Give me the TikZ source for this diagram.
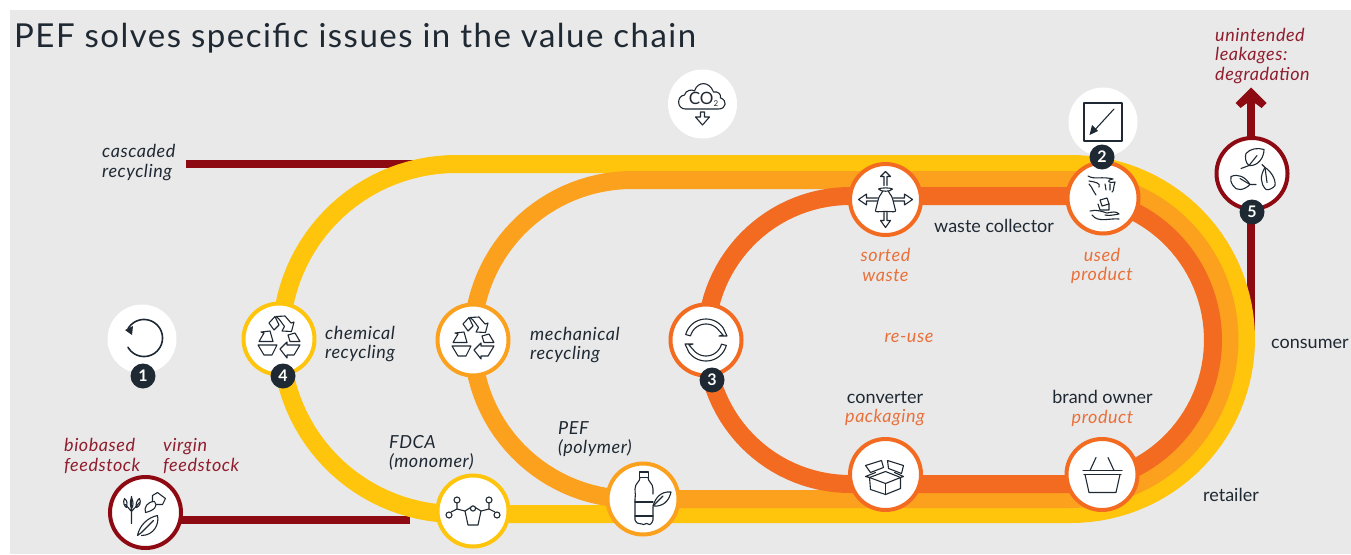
\documentclass[tikz,border=0pt]{standalone}
\usepackage{fontspec}
\setmainfont{Lato}
\newfontfamily\titlefont[LetterSpace=4.5]{Lato}
\newfontfamily\labfont[LetterSpace=3]{Lato}
\usetikzlibrary{backgrounds}
\definecolor{bgc}{HTML}{E9E9E9}
\definecolor{yel}{HTML}{FFC40C}
\definecolor{ora}{HTML}{FBA11D}
\definecolor{red0}{HTML}{F26B21}
\definecolor{dred}{HTML}{8E0A12}
\definecolor{ink}{HTML}{1F2933}
\definecolor{lab}{HTML}{E9703A}
\definecolor{redt}{HTML}{8F1D2E}
\tikzset{
 x=1pt,y=-1pt,
 band/.style={line width=18pt,line join=round},
 feedline/.style={dred,line width=8.5pt},
 hub/.style={circle,draw=#1,line width=4pt,fill=white,minimum size=71pt,inner sep=0pt},
 halo/.style={circle,fill=white,minimum size=69pt,inner sep=0pt},
 badge/.style={circle,fill=ink,minimum size=25pt,inner sep=0pt,text=white,font=\fontsize{16}{16}\selectfont\bfseries},
 txt/.style={text=ink,font=\fontsize{18}{19.5}\selectfont,inner sep=0pt,align=left},
 itx/.style={txt,font=\labfont\fontsize{18}{19.5}\selectfont\itshape},
 rtx/.style={itx,text=redt},
 otx/.style={itx,text=lab,align=center},
 ico/.style={draw=ink,line width=1.1pt,line join=round,line cap=round},
}
\newcommand\icorecyc{
 \draw[ico] (-10,-16)--(-4,-22.5)--(0,-14)--(-5,-9)--cycle;
 \draw[ico] (-3,-22.5)--(6,-23)--(12,-16)--(15,-17)--(12.5,-7.5)--(3,-8)--(5.5,-12.5)--(0,-20)--cycle;
 \draw[ico] (-20,2.5)--(-15,-6)--(-18,-7)--(-9,-8)--(-6,2.5)--cycle;
 \draw[ico] (-21,6)--(-2,6)--(-7,16)--(-15,16)--cycle;
 \draw[ico] (1,10)--(8,3)--(8,6)--(21,6)--(15,16)--(8,16)--(8,19)--cycle;
 \draw[ico] (9,-4)--(16,-6)--(21,2.5)--(11,2.5)--cycle;
}
\newcommand\icoswirl{
 \draw[ico] plot[domain=165:35,samples=25] ({21*cos(\x)},{-21*sin(\x)}) -- (21,-4) -- (13,-4) -- (17,-5) 
   -- plot[domain=40:165,samples=25] ({16*cos(\x)},{-16*sin(\x)}) -- cycle;
 \begin{scope}[rotate=180]
 \draw[ico] plot[domain=165:35,samples=25] ({21*cos(\x)},{-21*sin(\x)}) -- (21,-4) -- (13,-4) -- (17,-5) 
   -- plot[domain=40:165,samples=25] ({16*cos(\x)},{-16*sin(\x)}) -- cycle;
 \end{scope}
}
\newcommand\icomol{
 \draw[ico] (0,-5)--(-8,0)--(-5,14)--(5,14)--(8,0)--cycle;
 \draw[ico,fill=white] (0,-2.5) circle[radius=2.6];
 \draw[ico] (-8,0)--(-16,-2)--(-16,-9) (-16,-2)--(-22,1) (8,0)--(16,-2)--(16,-9) (16,-2)--(22,1);
 \draw[ico,fill=white] (-16,-11) circle[radius=3] (-24,4) circle[radius=3] (16,-11) circle[radius=3] (24,4) circle[radius=3];
}
\newcommand\icobottle{
 \draw[ico] (-3.5,-27)--(5.5,-27)--(5.5,-21.5)--(-3.5,-21.5)--cycle;
 \draw[ico] (-3,-21.5) .. controls (-3,-17) and (-8,-16) .. (-8,-10) .. controls (-8,-5) and (-7,-3) .. (-8,0) -- (-8,21) .. controls (-5,27) and (-3,23) .. (-1,25) .. controls (1,27) and (3,23) .. (5,25) .. controls (7,27) and (9,24) .. (10,21) -- (10,8);
 \draw[ico] (5,-21.5) .. controls (5,-17) and (10,-16) .. (10,-10) -- (10,-5);
 \draw[ico] (-8,3)--(10,3) (-8,17)--(10,17);
 \draw[ico] (10,7) .. controls (12,0) and (17,-8) .. (28,-7) .. controls (26,2) and (20,8) .. (10,7) -- cycle;
 \draw[ico] (10,7)--(20,-3);
}
\newcommand\icobox{
 \draw[ico] (-16,3)--(0,9)--(15,3)--(15,14)--(0,20)--(-15,15)--cycle;
 \draw[ico] (0,9)--(0,20);
 \draw[ico] (-16,3)--(0,-3)--(15,3);
 \draw[ico] (-20,-9)--(-4,-14)--(-2,-7)--(-15,-2)--cycle;
 \draw[ico] (2,-14)--(18,-9)--(16,-1)--(3,-6)--cycle;
 \draw[ico] (-16,3)--(-20,2)--(-10,-2) (15,3)--(18,2)--(9,-2);
}
\newcommand\icobasket{
 \draw[ico] (-19,-4)--(20,-4) (-18,0)--(19,0);
 \draw[ico] (-17,0)--(-13,18)--(14,18)--(18,0);
 \draw[ico] (-12,-4)--(-6,-17) (12,-4)--(6,-17);
}
\newcommand\icosort{
 \draw[ico] (-7,-10.5) .. controls (-4,-12) and (4,-12) .. (7,-10.5) .. controls (5,-7.5) and (-5,-7.5) .. (-7,-10.5) -- cycle;
 \draw[ico] (-3,-8) .. controls (-3,-6) and (-6,-5) .. (-7,-1) -- (-10,11) .. controls (-10,13) and (-8,12) .. (0,12) .. controls (8,12) and (10,13) .. (10,11) -- (7,-1) .. controls (6,-5) and (3,-6) .. (3,-8);
 \draw[ico] (-1.5,-14)--(-1.5,-23)--(-5,-23)--(0,-28)--(5,-23)--(1.5,-23)--(1.5,-14);
 \draw[ico] (-1.5,13)--(-1.5,21)--(-5,21)--(0,28)--(5,21)--(1.5,21)--(1.5,13);
 \draw[ico] (-8,-1.5)--(-19,-1.5)--(-19,-5.5)--(-27,0)--(-19,5.5)--(-19,1.5)--(-8,1.5);
 \draw[ico] (8,-1.5)--(19,-1.5)--(19,-5.5)--(27,0)--(19,5.5)--(19,1.5)--(8,1.5);
}
\newcommand\icohands{
 \draw[ico] (-15,-22) .. controls (-8,-18) and (-2,-22) .. (10,-19) .. controls (2,-18) and (6,-14) .. (12,-16) (-14,-17) .. controls (-8,-16) and (-2,-15) .. (-4,-11) (-14,-14) .. controls (-9,-8) and (-10,-6) .. (-7,-3) (12,-16) .. controls (10,-10) and (11,-7) .. (9,-6) (2,-14)--(3,-8) (7,-14)--(7,-8);
 \draw[ico] (-3,2)--(4,0)--(6,6)--(-1,8)--cycle;
 \draw[ico] (-5,6)--(-3,12)--(6,12)--(6,6);
 \draw[ico] (-13,13) .. controls (-6,11) and (0,14) .. (4,15) .. controls (10,14) and (13,13) .. (16,16) .. controls (10,17) and (6,18) .. (2,17) (-11,17) .. controls (-5,25) and (6,20) .. (16,21);
}
\newcommand\icoleaves{
 \draw[ico] (-6,-20) .. controls (-2,-25) and (6,-26) .. (12,-24) .. controls (12,-16) and (6,-7) .. (-3,-8) .. controls (-7,-11) and (-7,-17) .. (-6,-20) -- cycle;
 \draw[ico] (-11,-5)--(-3,-8)--(5,-18);
 \draw[ico] (13,-6) .. controls (18,-3) and (24,5) .. (23,12) .. controls (21,15) and (16,17) .. (14,16) .. controls (8,10) and (8,2) .. (13,-6) -- cycle;
 \draw[ico] (10,-9)--(13,-6)--(15,9);
 \draw[ico] (-21,3) .. controls (-14,0) and (-7,3) .. (-2,11) .. controls (-8,17) and (-16,18) .. (-19,12) .. controls (-21,9) and (-22,6) .. (-21,3) -- cycle;
 \draw[ico] (-12,5)--(-2,11)--(4,11);
}
\newcommand\icofeed{
 \draw[ico] (-14,-16)--(-14,11) (-14,-1)--(-20,-8) (-14,-1)--(-6,-10);
 \draw[ico] (-21,-14) .. controls (-23,-10) and (-21,-6) .. (-19,-5) .. controls (-18,-8) and (-18,-12) .. (-21,-14);
 \draw[ico] (-14,-15) .. controls (-16,-10) and (-15,-6) .. (-14,-4) .. controls (-12,-6) and (-12,-11) .. (-14,-15);
 \draw[ico] (-6,-14) .. controls (-9,-12) and (-10,-8) .. (-9,-5) .. controls (-6,-6) and (-4,-10) .. (-6,-14);
 \draw[ico] (0,0) .. controls (-2,-5) and (2,-11) .. (9,-11) .. controls (13,-7) and (9,-2) .. (0,0) -- cycle;
 \draw[ico] (7,-11) -- (7,-17) -- (12,-20) -- (20,-14) -- (17,-8) -- (11,-8);
 \draw[ico] (-8,23) .. controls (-6,13) and (2,5) .. (12,3) .. controls (14,12) and (8,23) .. (-4,23) (-8,23)--(-4,20)--(8,8);
}
\begin{document}
\begin{tikzpicture}
\useasboundingbox (0,0) rectangle (1351,554);
% hubs
\node[hub=yel] (chem) at (279,339) {};
\node[hub=ora] (mech) at (473,340) {};
\node[hub=red0] (reuse) at (706,340) {};
\node[hub=yel] (fdca) at (473,511) {};
\node[hub=ora] (pef) at (643,499) {};
\node[hub=red0] (conv) at (885.5,474.5) {};
\node[hub=red0] (brand) at (1102,474.5) {};
\node[hub=red0] (sort) at (885.5,199.5) {};
\node[hub=red0] (used) at (1103,198) {};
\node[hub=dred] (leak) at (1252,173.5) {};
\node[hub=dred] (feed) at (145.5,512.5) {};
\node[halo] (h1) at (142,339) {};
\node[halo] (hco) at (702.5,104) {};
\node[halo] (h2) at (1103,122) {};
% bands
\coordinate (casc) at (186,164);
\coordinate (cascend) at (420,164);
\coordinate (feedend) at (409.5,520);
\coordinate (feedstart) at (175,520);
\coordinate (leakbot) at (1251,339);
\coordinate (leaktop) at (1251,95);
\begin{pgfonlayer}{background}
 \fill[bgc] (10,10) rectangle (1351,554);
 \draw[feedline] (casc) -- (cascend);
 \draw[feedline] (feedstart) -- (feedend);
 \draw[feedline] (leakbot) -- (leaktop);
 \fill[dred] (1251,87.5) -- (1266.5,103) -- (1261.5,108) -- (1255.5,103.5) -- (1246.5,103.5) -- (1240.5,108) -- (1235.5,103) -- cycle;
 \draw[band,yel] plot[domain=90:270,samples=60] ({456+175*cos(\x)},{339+175*sin(\x)}) -- plot[domain=270:450,samples=60] ({1071+175*cos(\x)},{339+175*sin(\x)}) -- cycle;
 \draw[band,ora] plot[domain=90:270,samples=60] ({632+159.5*cos(\x)},{339.5+159.5*sin(\x)}) -- plot[domain=270:450,samples=60] ({1070+159.5*cos(\x)},{339.5+159.5*sin(\x)}) -- cycle;
 \draw[band,red0] plot[domain=90:270,samples=60] ({850+144*cos(\x)},{340+144*sin(\x)}) -- plot[domain=270:450,samples=60] ({1069+144*cos(\x)},{340+144*sin(\x)}) -- cycle;
\end{pgfonlayer}
% icons
\begin{scope}[shift={(chem.center)}]\icorecyc\end{scope}
\begin{scope}[shift={(mech.center)}]\icorecyc\end{scope}
\begin{scope}[shift={(reuse.center)}]\icoswirl\end{scope}
\begin{scope}[shift={(fdca.center)}]\icomol\end{scope}
\begin{scope}[shift={(pef.center)}]\icobottle\end{scope}
\begin{scope}[shift={(conv.center)}]\icobox\end{scope}
\begin{scope}[shift={(brand.center)}]\icobasket\end{scope}
\begin{scope}[shift={(sort.center)}]\icosort\end{scope}
\begin{scope}[shift={(used.center)}]\icohands\end{scope}
\begin{scope}[shift={(leak.center)}]\icoleaves\end{scope}
\begin{scope}[shift={(feed.center)}]\icofeed\end{scope}
\begin{scope}[shift={(h1.center)}]
 \draw[ico,line width=1.6pt] plot[domain=150:-150,samples=60] ({2+18.5*cos(\x)},{-1-18.5*sin(\x)});
 \fill[ink] (-17,-9) -- (-9,-13) -- (-10,-4) -- cycle;
\end{scope}
\begin{scope}[shift={(h2.center)}]
 \draw[ico] (-19,-19) rectangle (19,19);
 \draw[ico] (11,-13) -- (-11,11);
 \fill[ink] (-13.5,13) -- (-11,3) -- (-5,9) -- cycle;
\end{scope}
\begin{scope}[shift={(hco.center)}]
 \draw[ico] (-17,5) .. controls (-26,5) and (-26,-8) .. (-18,-9) .. controls (-17,-14) and (-10,-15) .. (-8,-13) .. controls (-5,-23) and (7,-23) .. (11,-12) .. controls (15,-13) and (19,-10) .. (18,-6) .. controls (25,-4) and (24,5) .. (16,5) -- cycle;
 \draw[ico] (-2,8)--(-2,13)--(-7,13)--(0,21)--(7,13)--(2,13)--(2,8)--cycle;
 \node[text=ink,font=\fontsize{17}{17}\selectfont,inner sep=0pt] (co2) at (1,-5) {CO{\raisebox{-2pt}{\fontsize{8}{8}\selectfont 2}}};
\end{scope}
% badges
\node[badge] (b1) at (143,376) {1};
\node[badge] (b4) at (283,376) {4};
\node[badge] (b3) at (712,380) {3};
\node[badge] (b2) at (1102,157) {2};
\node[badge] (b5) at (1252,212) {5};
% texts
\node[txt,anchor=west,text=ink,font=\titlefont\fontsize{33}{33}\selectfont] (title) at (14,38) {PEF solves specific issues in the value chain};
\node[itx,anchor=west] (tcasc) at (102,162.5) {cascaded\\recycling};
\node[itx,anchor=west] (tchem) at (325,344) {chemical\\recycling};
\node[itx,anchor=west] (tmech) at (530,345) {mechanical\\recycling};
\node[itx,anchor=west] (tfdca) at (389,453) {FDCA\\(monomer)};
\node[itx,anchor=west] (tpef) at (558,439) {PEF\\(polymer)};
\node[rtx,anchor=west] (tbio) at (64,456) {biobased\\feedstock};
\node[rtx,anchor=west] (tvir) at (163,456) {virgin\\feedstock};
\node[rtx,anchor=west] (tunint) at (1215,56) {unintended\\leakages:\\degradation};
\node[otx] (tsort) at (885.5,265) {sorted\\waste};
\node[otx] (tused) at (1102,266) {used\\product};
\node[otx] (treuse) at (909,338) {re-use};
\node[txt,anchor=west] (twaste) at (934,225.5) {waste collector};
\node[txt] (tconv) at (885,398) {converter};
\node[otx] (tpack) at (885,418) {packaging};
\node[txt] (tbrand) at (1102.5,397) {brand owner};
\node[otx] (tprod) at (1102.5,418) {product};
\node[txt,anchor=west] (tret) at (1203,495) {retailer};
\node[txt,anchor=west] (tcons) at (1271,344) {consumer};
\end{tikzpicture}
\end{document}
